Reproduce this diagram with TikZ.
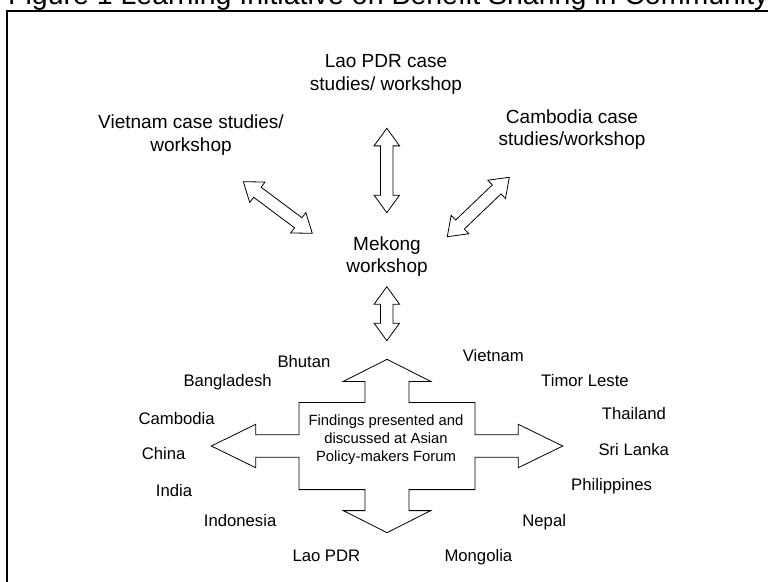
\documentclass[tikz,border=0pt]{standalone}
\usepackage{fontspec}
\setmainfont{Liberation Sans}
\usetikzlibrary{shapes.arrows}
\begin{document}
\begin{tikzpicture}[x=1pt,y=-1pt,
  toplabel/.style={align=center, font=\fontsize{19}{23}\selectfont, inner sep=0pt, anchor=base},
  country/.style={font=\fontsize{16.7}{20}\selectfont, inner sep=0pt, anchor=base west},
  dblarrow/.style={double arrow, draw, line width=0.8pt, inner xsep=0pt, inner ysep=5.85pt,
    double arrow head extend=6.5pt, double arrow tip angle=72, sloped},
  bigarrow/.style={draw, line width=0.8pt},
  frameline/.style={line width=1.5pt}
]
\useasboundingbox (0,0) rectangle (768,581);

% title (cut off by the page top) and frame
\node[anchor=base west, inner sep=0pt, font=\fontsize{28.5}{30}\selectfont] (title) at (8,4)
  {Figure 1 Learning Initiative on Benefit Sharing in Community};
\draw[frameline] (790,11) -- (7,11) -- (7,600);

% top labels (anchored at the baseline of their last line)
\node[toplabel] (lao) at (386,90) {Lao PDR case\\studies/ workshop};
\node[toplabel] (vietnam) at (191,151) {Vietnam case studies/\\workshop};
\node[toplabel, font=\fontsize{19}{22}\selectfont] (cambodia) at (572,145) {Cambodia case\\studies/workshop};
\node[toplabel, font=\fontsize{19}{22}\selectfont] (mekong) at (387,272) {Mekong\\workshop};

% double arrows
\coordinate (a1s) at (386.8,128.3); \coordinate (a1e) at (386.8,212.7);
\coordinate (a2s) at (243.3,181.7); \coordinate (a2e) at (312.3,233.3);
\coordinate (a3s) at (509.3,177.3); \coordinate (a3e) at (447.3,236.7);
\coordinate (a4s) at (386.8,286.7); \coordinate (a4e) at (386.8,340.7);
\path (a1s) -- node[dblarrow, minimum height=84.4pt] (arr1) {} (a1e);
\path (a2s) -- node[dblarrow, minimum height=86.1pt] (arr2) {} (a2e);
\path (a3s) -- node[dblarrow, minimum height=85.9pt] (arr3) {} (a3e);
\path (a4s) -- node[dblarrow, minimum height=54pt] (arr4) {} (a4e);

% big four-way arrow
\coordinate (c) at (387,446);
\draw[bigarrow, shift={(c)}]
  (0,-86.7) -- (43.7,-64.6) -- (22,-64.6) -- (22,-43.6) -- (88,-43.6) -- (88,-11.2)
  -- (131.3,-11.2) -- (131.3,-21.7) -- (175.7,0) -- (131.3,21.7) -- (131.3,11.2)
  -- (88,11.2) -- (88,43.6) -- (22,43.6) -- (22,64.6) -- (43.7,64.6) -- (0,86.7)
  -- (-43.7,64.6) -- (-22,64.6) -- (-22,43.6) -- (-88,43.6) -- (-88,11.2)
  -- (-131.3,11.2) -- (-131.3,21.7) -- (-175.7,0) -- (-131.3,-21.7) -- (-131.3,-11.2)
  -- (-88,-11.2) -- (-88,-43.6) -- (-22,-43.6) -- (-22,-64.6) -- (-43.7,-64.6) -- cycle;
\node[align=center, inner sep=0pt, anchor=base, font=\fontsize{14.8}{18}\selectfont] (findings) at (386,461)
  {Findings presented and\\discussed at Asian\\Policy-makers Forum};

% countries
\node[country] (bhutan) at (277.3,367.3) {Bhutan};
\node[country] (bangladesh) at (183.3,386) {Bangladesh};
\node[country] (cambodia2) at (138.3,424) {Cambodia};
\node[country] (china) at (141.7,459.3) {China};
\node[country] (india) at (155.7,496.7) {India};
\node[country] (indonesia) at (203.7,526.7) {Indonesia};
\node[country] (laopdr) at (292.3,561.7) {Lao PDR};
\node[country] (vietnam2) at (462.7,361.7) {Vietnam};
\node[country] (timor) at (541,386) {Timor Leste};
\node[country] (thailand) at (601.7,419.3) {Thailand};
\node[country] (srilanka) at (598.3,455) {Sri Lanka};
\node[country] (philippines) at (571,490.7) {Philippines};
\node[country] (nepal) at (522.2,526.7) {Nepal};
\node[country] (mongolia) at (444.3,561.7) {Mongolia};
\end{tikzpicture}
\end{document}
